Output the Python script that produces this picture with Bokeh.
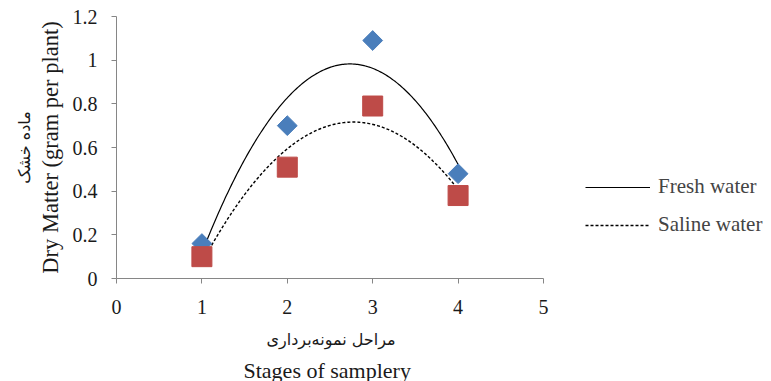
import numpy as np
from bokeh.plotting import figure
from bokeh.models import (FixedTicker, Legend, LegendItem, Range1d, Title)
from bokeh.embed import file_html
from bokeh.resources import INLINE

stages = [1, 2, 3, 4]
fresh = [0.16, 0.70, 1.09, 0.48]
saline = [0.10, 0.51, 0.79, 0.38]
x_ticks = [0, 1, 2, 3, 4, 5]
y_ticks = [0, 0.2, 0.4, 0.6, 0.8, 1.0, 1.2]
y_tick_labels = ["0", "0.2", "0.4", "0.6", "0.8", "1", "1.2"]
series_names = ["Fresh water", "Saline water"]

SERIF = "Liberation Serif"
ARABIC = "DejaVu Sans"

# frame spans to the right edge so the legend can sit inside it;
# the x axis itself is bounded to 0..5
p = figure(width=771, height=381, output_backend="svg", toolbar_location=None,
           x_range=Range1d(0, 7.67), y_range=Range1d(0, 1.2),
           min_border_left=116, min_border_top=16, min_border_bottom=103,
           min_border_right=0)
p.outline_line_color = None
p.xgrid.visible = False
p.ygrid.visible = False

for ax in (p.xaxis[0], p.yaxis[0]):
    ax.axis_line_color = "#868686"
    ax.major_tick_line_color = "#868686"
    ax.major_tick_out = 5
    ax.major_tick_in = 0
    ax.minor_tick_line_color = None
    ax.major_label_text_font = SERIF
    ax.major_label_text_font_size = "20px"
    ax.major_label_text_color = "#1a1a1a"

p.xaxis[0].bounds = (0, 5)
p.xaxis[0].ticker = FixedTicker(ticks=x_ticks)
p.yaxis[0].ticker = FixedTicker(ticks=y_ticks)
p.yaxis[0].major_label_overrides = {t: l for t, l in zip(y_ticks, y_tick_labels)}
p.xaxis[0].major_label_standoff = 16
p.yaxis[0].major_label_standoff = 14

# polynomial (order 2) trend lines as in the spreadsheet chart
xs = np.linspace(min(stages), max(stages), 200)
cf = np.polyfit(stages, fresh, 2)
cs = np.polyfit(stages, saline, 2)
l1 = p.line(xs, np.polyval(cf, xs), line_color="black", line_width=1.2)
l2 = p.line(xs, np.polyval(cs, xs), line_color="black", line_width=1.4,
            line_dash="3 2")

p.scatter(stages, fresh, marker="square", angle=np.pi / 4, size=14,
          fill_color="#4A7EBB", line_color="#4A7EBB")
p.scatter(stages, saline, marker="square", size=20,
          fill_color="#BE4B48", line_color="#BE4B48")

legend = Legend(items=[LegendItem(label=series_names[0], renderers=[l1]),
                       LegendItem(label=series_names[1], renderers=[l2])],
                location=(469, 41), border_line_color=None,
                background_fill_alpha=0, label_text_font=SERIF,
                label_text_font_size="21px", glyph_width=65, glyph_height=20,
                spacing=13, padding=0, margin=0, label_standoff=8)
p.add_layout(legend)

# axis titles (Persian and English)
p.add_layout(Title(text="مراحل نمونه‌برداری", text_font=ARABIC,
                   text_font_size="16px", text_font_style="normal",
                   align="left", offset=150, standoff=22,
                   text_color="#1a1a1a"), "below")
p.add_layout(Title(text="Stages of samplery", text_font=SERIF,
                   text_font_size="22px", text_font_style="normal",
                   align="left", offset=127, standoff=-8,
                   text_color="#1a1a1a"), "below")
p.add_layout(Title(text="Dry Matter (gram per plant)", text_font=SERIF,
                   text_font_size="22.5px", text_font_style="normal",
                   align="center", standoff=13,
                   text_color="#1a1a1a"), "left")
p.add_layout(Title(text="ماده خشک", text_font=ARABIC,
                   text_font_size="16px", text_font_style="normal",
                   align="center", standoff=-9,
                   text_color="#1a1a1a"), "left")

open("out.html", "w").write(file_html(p, INLINE))
